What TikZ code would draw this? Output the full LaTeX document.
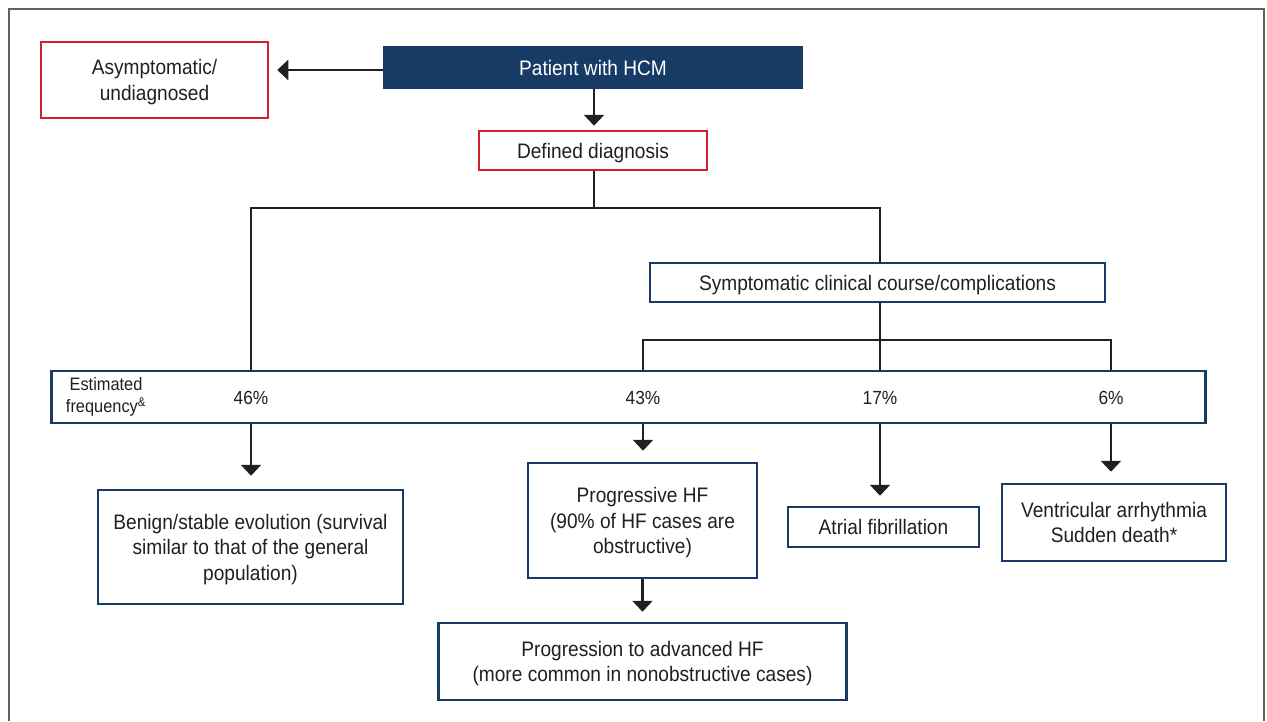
\documentclass[tikz,border=0pt]{standalone}
\usepackage{fontspec}
\setmainfont{Liberation Sans}[FakeStretch=0.91]
\usetikzlibrary{arrows.meta}
\definecolor{navy}{HTML}{173B65}
\definecolor{hcmred}{HTML}{D42027}
\definecolor{txt}{HTML}{231F20}
\definecolor{frame}{HTML}{606060}
\tikzset{
  x=1pt, y=-1pt,
  box/.style={draw=navy, line width=2.5pt, fill=white, text=txt, align=center,
    inner sep=0pt, text depth=0pt, font=\fontsize{21}{25.5}\selectfont},
  redbox/.style={box, draw=hcmred},
  link/.style={draw=txt, line width=2.5pt},
  arr/.style={link, -{Triangle[width=20pt,length=11pt]}},
  lbl/.style={text=txt, font=\fontsize{19}{22}\selectfont, inner sep=0pt},
}
\begin{document}
\begin{tikzpicture}
\useasboundingbox (0,0) rectangle (1267,721);
\draw[frame, line width=2pt] (8.5,721) -- (8.5,8.5) -- (1263.5,8.5) -- (1263.5,721);

\node[redbox, minimum width=227pt, minimum height=76pt] (asym) at (154.5,80) {Asymptomatic/\\undiagnosed};
\node[box, fill=navy, text=white, draw=navy, minimum width=418pt, minimum height=41pt] (patient) at (593,67.5) {Patient with HCM};
\node[redbox, minimum width=228pt, minimum height=39pt] (defined) at (593,150.5) {Defined diagnosis};
\node[box, minimum width=455pt, minimum height=39pt] (symp) at (877.5,282.5) {Symptomatic clinical course/complications};
\node[box, minimum width=1154pt, minimum height=52pt] (freq) at (628.5,397) {};
\node[box, minimum width=305pt, minimum height=114pt] (benign) at (250.5,547) {Benign/stable evolution (survival\\similar to that of the general\\population)};
\node[box, minimum width=229pt, minimum height=115pt] (prog) at (642.5,520.5) {Progressive HF\\(90\% of HF cases are\\obstructive)};
\node[box, minimum width=191pt, minimum height=40pt] (af) at (883.5,527) {Atrial fibrillation};
\node[box, minimum width=224pt, minimum height=77pt] (va) at (1114,522.5) {Ventricular arrhythmia\\Sudden death*};
\node[box, minimum width=408pt, minimum height=77pt] (adv) at (642.5,661.5) {Progression to advanced HF\\(more common in nonobstructive cases)};

\node[lbl, align=center, font=\fontsize{18}{22}\selectfont] (est) at (106,397) {Estimated\\frequency\textsuperscript{\&}};
\node[lbl] (p46) at (251,398) {46\%};
\node[lbl] (p43) at (643,398) {43\%};
\node[lbl] (p17) at (880,398) {17\%};
\node[lbl] (p6) at (1111,398) {6\%};

\coordinate (ya) at (0,70);
\coordinate (j1) at (594,208);
\coordinate (jl) at (251,208);
\coordinate (jr) at (880,208);
\coordinate (j2) at (880,340);
\coordinate (j2l) at (643,340);
\coordinate (j2r) at (1111,340);

\draw[arr, shorten >=8pt] (patient.west |- ya) -- (asym.east |- ya);
\draw[arr, shorten >=4pt] (patient.south -| j1) -- (defined.north -| j1);
\draw[link] (defined.south -| j1) -- (j1);
\draw[link] (jl |- freq.north) -- (jl) -- (jr) -- (symp.north -| jr);
\draw[link] (symp.south -| j2) -- (j2);
\draw[link] (j2l |- freq.north) -- (j2l) -- (j2r) -- (j2r |- freq.north);
\draw[link] (j2) -- (j2 |- freq.north);

\draw[arr, shorten >=13pt] (p46 |- freq.south) -- (p46 |- benign.north);
\draw[arr, shorten >=11pt] (p43 |- freq.south) -- (p43 |- prog.north);
\draw[arr, shorten >=10pt] (p17 |- freq.south) -- (p17 |- af.north);
\draw[arr, shorten >=11pt] (p6 |- freq.south) -- (p6 |- va.north);
\draw[arr, shorten >=10pt] (prog.south) -- (adv.north);
\end{tikzpicture}
\end{document}
